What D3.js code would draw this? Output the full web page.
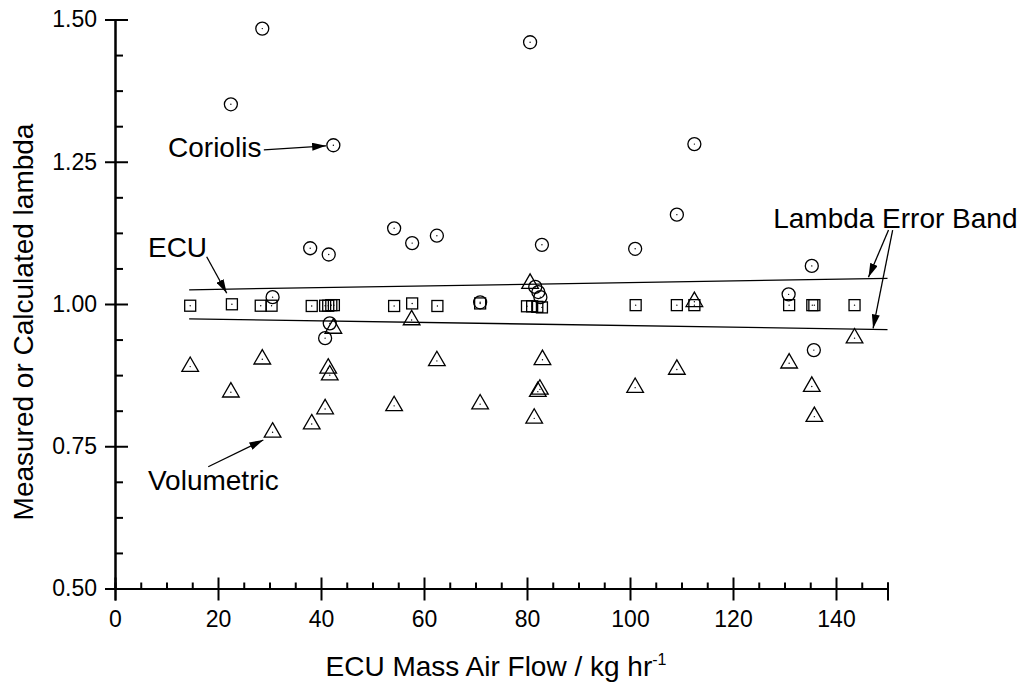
<!DOCTYPE html>
<html>
<head>
<meta charset="utf-8">
<title>lambda</title>
<style>
  body { margin: 0; background: #fff; }
  svg { font-family: "Liberation Sans", Arial, sans-serif; }
  .axis path, .axis line { stroke: #000; stroke-width: 2; }
  .axis text { font-size: 23px; fill: #000; }
  .mark { fill: none; stroke: #000; stroke-width: 1.3; }
  .band { stroke: #000; stroke-width: 1.3; fill: none; }
  .note { font-size: 28px; fill: #000; }
  .arrow { stroke: #000; stroke-width: 1.3; fill: none; }
</style>
</head>
<body>
<svg id="chart" width="1024" height="684"></svg>
<script src="https://cdn.jsdelivr.net/npm/d3@7"></script>
<script>
// ECU lambda (squares)
var ecuX = [14.6, 22.7, 28.3, 30.4, 38.2, 40.8, 41.4, 42.0, 42.5, 54.2, 57.7, 62.6, 70.9,
            80.0, 81.0, 82.0, 82.9, 101.1, 109.1, 112.5, 130.9, 135.4, 135.8, 143.6];
var ecuY = [0.997, 0.9995, 0.997, 0.997, 0.9965, 0.997, 0.997, 0.998, 0.998, 0.9965, 1.001, 0.9965, 1.001,
            0.996, 0.996, 0.995, 0.994, 0.998, 0.998, 0.998, 0.998, 0.998, 0.998, 0.998];

// Coriolis lambda (circles)
var corX = [22.5, 28.6, 30.6, 37.9, 41.5, 40.8, 41.7, 42.4, 54.2, 57.7, 62.5, 70.9,
            80.6, 81.6, 82.2, 82.6, 82.9, 101.0, 109.1, 112.5, 130.8, 135.3, 135.7];
var corY = [1.351, 1.484, 1.012, 1.098, 1.087, 0.940, 0.966, 1.279, 1.133, 1.107, 1.120, 1.003,
            1.460, 1.030, 1.021, 1.012, 1.104, 1.097, 1.157, 1.281, 1.017, 1.067, 0.919];

// Volumetric lambda (triangles)
var volX = [14.6, 22.5, 28.6, 30.6, 38.2, 40.8, 41.4, 41.7, 42.4, 54.2, 57.6, 62.5, 70.9,
            80.6, 81.4, 82.1, 82.5, 83.0, 101.0, 109.1, 112.5, 130.9, 135.3, 135.8, 143.6];
var volY = [0.890, 0.845, 0.903, 0.7745, 0.789, 0.8155, 0.887, 0.875, 0.957, 0.821, 0.972, 0.900, 0.824,
            1.036, 0.799, 0.846, 0.850, 0.902, 0.853, 0.885, 1.004, 0.896, 0.855, 0.802, 0.940];

// lambda error band
var bandX = [14.4, 150];
var bandUpper = [1.025, 1.045];
var bandLower = [0.974, 0.955];

var xTicks = [0, 20, 40, 60, 80, 100, 120, 140];
var yTicks = [0.50, 0.75, 1.00, 1.25, 1.50];

// annotations: text anchor and arrows (data units)
var notes = [
  { text: "Coriolis", x: 10.3, y: 1.258 },
  { text: "ECU", x: 6.4, y: 1.083 },
  { text: "Volumetric", x: 6.4, y: 0.673 },
  { text: "Lambda Error Band", x: 127.8, y: 1.134 }
];
var arrows = [
  { x1: 28.9, y1: 1.271, x2: 41.0, y2: 1.278 },
  { x1: 17.8, y1: 1.083, x2: 21.7, y2: 1.019 },
  { x1: 18.1, y1: 0.714, x2: 28.8, y2: 0.761 },
  { x1: 150.2, y1: 1.130, x2: 146.3, y2: 1.047 },
  { x1: 151.0, y1: 1.130, x2: 147.2, y2: 0.957 }
];

var svg = d3.select("#chart");

var x = d3.scaleLinear().domain([0, 150]).range([115, 887.5]);
var y = d3.scaleLinear().domain([0.5, 1.5]).range([588.5, 19.5]);

svg.append("defs").append("marker")
  .attr("id", "head")
  .attr("viewBox", "0 0 14 8")
  .attr("refX", 14).attr("refY", 4)
  .attr("markerWidth", 14).attr("markerHeight", 8)
  .attr("markerUnits", "userSpaceOnUse")
  .attr("orient", "auto")
  .append("path").attr("d", "M0,0 L14,4 L0,8 Z").attr("fill", "#000");

// minor ticks
svg.append("g").attr("class", "axis")
  .attr("transform", "translate(0," + y(0.5) + ")")
  .call(d3.axisBottom(x).tickValues(d3.range(5, 151, 5).filter(function(v) { return v % 20 != 0; }))
    .tickSize(-6).tickFormat(""));
svg.append("g").attr("class", "axis")
  .attr("transform", "translate(" + x(0) + ",0)")
  .call(d3.axisLeft(y).tickValues(d3.range(0.5625, 1.5, 0.0625).filter(function(v) { return Math.abs(v * 4 - Math.round(v * 4)) > 1e-6; }))
    .tickSize(-8).tickFormat(""));

// major axes
var gx = svg.append("g").attr("class", "axis")
  .attr("transform", "translate(0," + y(0.5) + ")")
  .call(d3.axisBottom(x).tickValues(xTicks).tickSizeOuter(0).tickSize(12));
gx.selectAll(".tick line").attr("y1", -11);
gx.selectAll(".tick text").attr("y", 22);

var gy = svg.append("g").attr("class", "axis")
  .attr("transform", "translate(" + x(0) + ",0)")
  .call(d3.axisLeft(y).tickValues(yTicks).tickSizeOuter(0).tickSize(10).tickFormat(d3.format(".2f")));
gy.selectAll(".tick line").attr("x1", 13);
gy.selectAll(".tick text").attr("x", -18);

// axis titles
var xt = svg.append("text").attr("class", "note")
  .attr("x", 496).attr("y", 676).attr("text-anchor", "middle");
xt.append("tspan").text("ECU Mass Air Flow / kg hr");
xt.append("tspan").attr("dy", -11).attr("font-size", 16).text("-1");

svg.append("text").attr("class", "note")
  .attr("transform", "translate(33,322) rotate(-90)")
  .attr("text-anchor", "middle")
  .text("Measured or Calculated lambda");

// error band
[bandUpper, bandLower].forEach(function(b) {
  svg.append("line").attr("class", "band")
    .attr("x1", x(bandX[0])).attr("y1", y(b[0]))
    .attr("x2", x(bandX[1])).attr("y2", y(b[1]));
});

function dots(g, xs, ys) {
  g.selectAll("circle.c").data(xs).enter().append("circle")
    .attr("cx", function(d) { return x(d); })
    .attr("cy", function(d, i) { return y(ys[i]); })
    .attr("r", 0.7).attr("fill", "#000");
}

// squares
var gs = svg.append("g");
gs.selectAll("rect").data(ecuX).enter().append("rect").attr("class", "mark")
  .attr("x", function(d) { return x(d) - 5.5; })
  .attr("y", function(d, i) { return y(ecuY[i]) - 5.5; })
  .attr("width", 11).attr("height", 11);
dots(gs, ecuX, ecuY);

// circles
var gc = svg.append("g");
gc.selectAll("circle.m").data(corX).enter().append("circle").attr("class", "mark m")
  .attr("cx", function(d) { return x(d); })
  .attr("cy", function(d, i) { return y(corY[i]); })
  .attr("r", 6.5);
dots(gc, corX, corY);

// triangles
var tri = d3.symbol().type(d3.symbolTriangle).size(120);
var gt = svg.append("g");
gt.selectAll("path").data(volX).enter().append("path").attr("class", "mark")
  .attr("d", tri)
  .attr("transform", function(d, i) { return "translate(" + x(d) + "," + y(volY[i]) + ")"; });
dots(gt, volX, volY);

// annotations
svg.selectAll("text.lbl").data(notes).enter().append("text").attr("class", "note lbl")
  .attr("x", function(d) { return x(d.x); })
  .attr("y", function(d) { return y(d.y); })
  .text(function(d) { return d.text; });

svg.selectAll("line.arrow").data(arrows).enter().append("line").attr("class", "arrow")
  .attr("x1", function(d) { return x(d.x1); })
  .attr("y1", function(d) { return y(d.y1); })
  .attr("x2", function(d) { return x(d.x2); })
  .attr("y2", function(d) { return y(d.y2); })
  .attr("marker-end", "url(#head)");
</script>
</body>
</html>
